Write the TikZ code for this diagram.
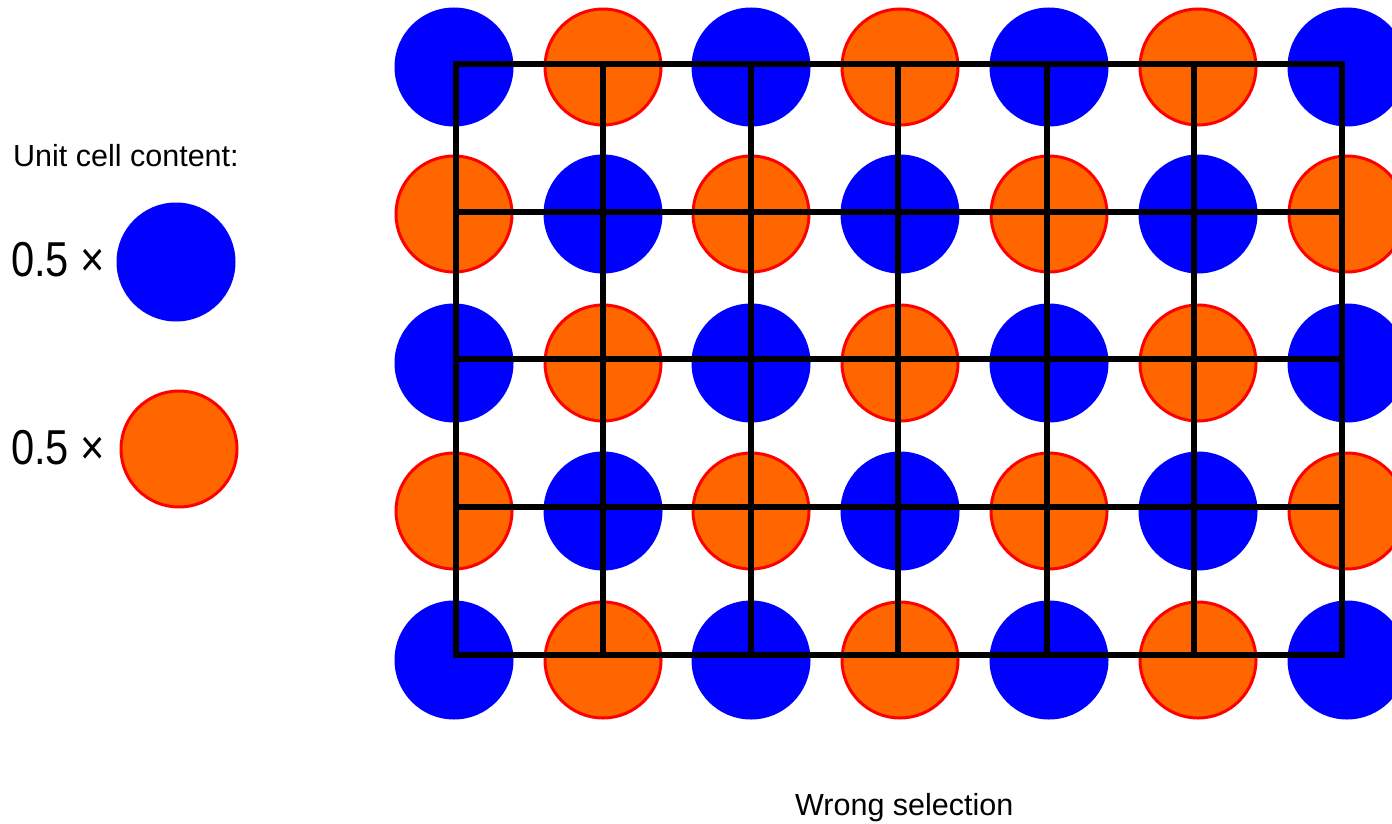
\documentclass[tikz,border=0pt]{standalone}
\usepackage{fontspec}
\setmainfont{Liberation Sans}
\newfontfamily\narrowfont[FakeStretch=0.85]{Liberation Sans}
\definecolor{bluec}{RGB}{0,0,255}
\definecolor{orangec}{RGB}{255,102,0}
\definecolor{redc}{RGB}{255,0,0}
\tikzset{
  bluedot/.style={circle,fill=bluec,draw=none,minimum size=119pt,inner sep=0pt},
  orangedot/.style={circle,fill=orangec,draw=redc,line width=3pt,minimum size=116pt,inner sep=0pt},
  gridline/.style={line width=5.5pt,black},
  lbl/.style={anchor=base west,inner sep=0pt,font=\fontsize{30.5}{34}\selectfont},
  biglbl/.style={anchor=base west,inner sep=0pt,font=\narrowfont\fontsize{49}{54}\selectfont}
}
\begin{document}
\begin{tikzpicture}[x=1pt,y=-1pt]
\useasboundingbox (0,0) rectangle (1392,824);
% circles
\foreach \c [count=\i from 0] in {454,603,751,900,1049,1198,1347}{
  \foreach \r [count=\j from 0] in {67,214,363,511,660}{
    \pgfmathtruncatemacro{\myparity}{mod(\i+\j,2)}
    \ifnum\myparity=0
      \node[bluedot] (d\i-\j) at (\c,\r) {};
    \else
      \node[orangedot] (d\i-\j) at (\c,\r) {};
    \fi
  }
}
% grid
\foreach \gx in {456,603,751,898,1047,1194,1342}{
  \draw[gridline] (\gx,64) -- (\gx,655);
}
\foreach \gy in {64,212,359,507,655}{
  \draw[gridline] (456,\gy) -- (1342,\gy);
}
\draw[gridline,line cap=rect] (456,64) rectangle (1342,655);
% legend
\node[lbl] (title) at (13,167) {Unit cell content:};
\node[biglbl] (l1) at (11,276) {0.5 ×};
\node[bluedot,minimum size=119pt] (lb) at (176,262) {};
\node[biglbl] (l2) at (11,464) {0.5 ×};
\node[orangedot] (lo) at (179,449) {};
\node[lbl] (cap) at (795,815) {Wrong selection};
\end{tikzpicture}
\end{document}
